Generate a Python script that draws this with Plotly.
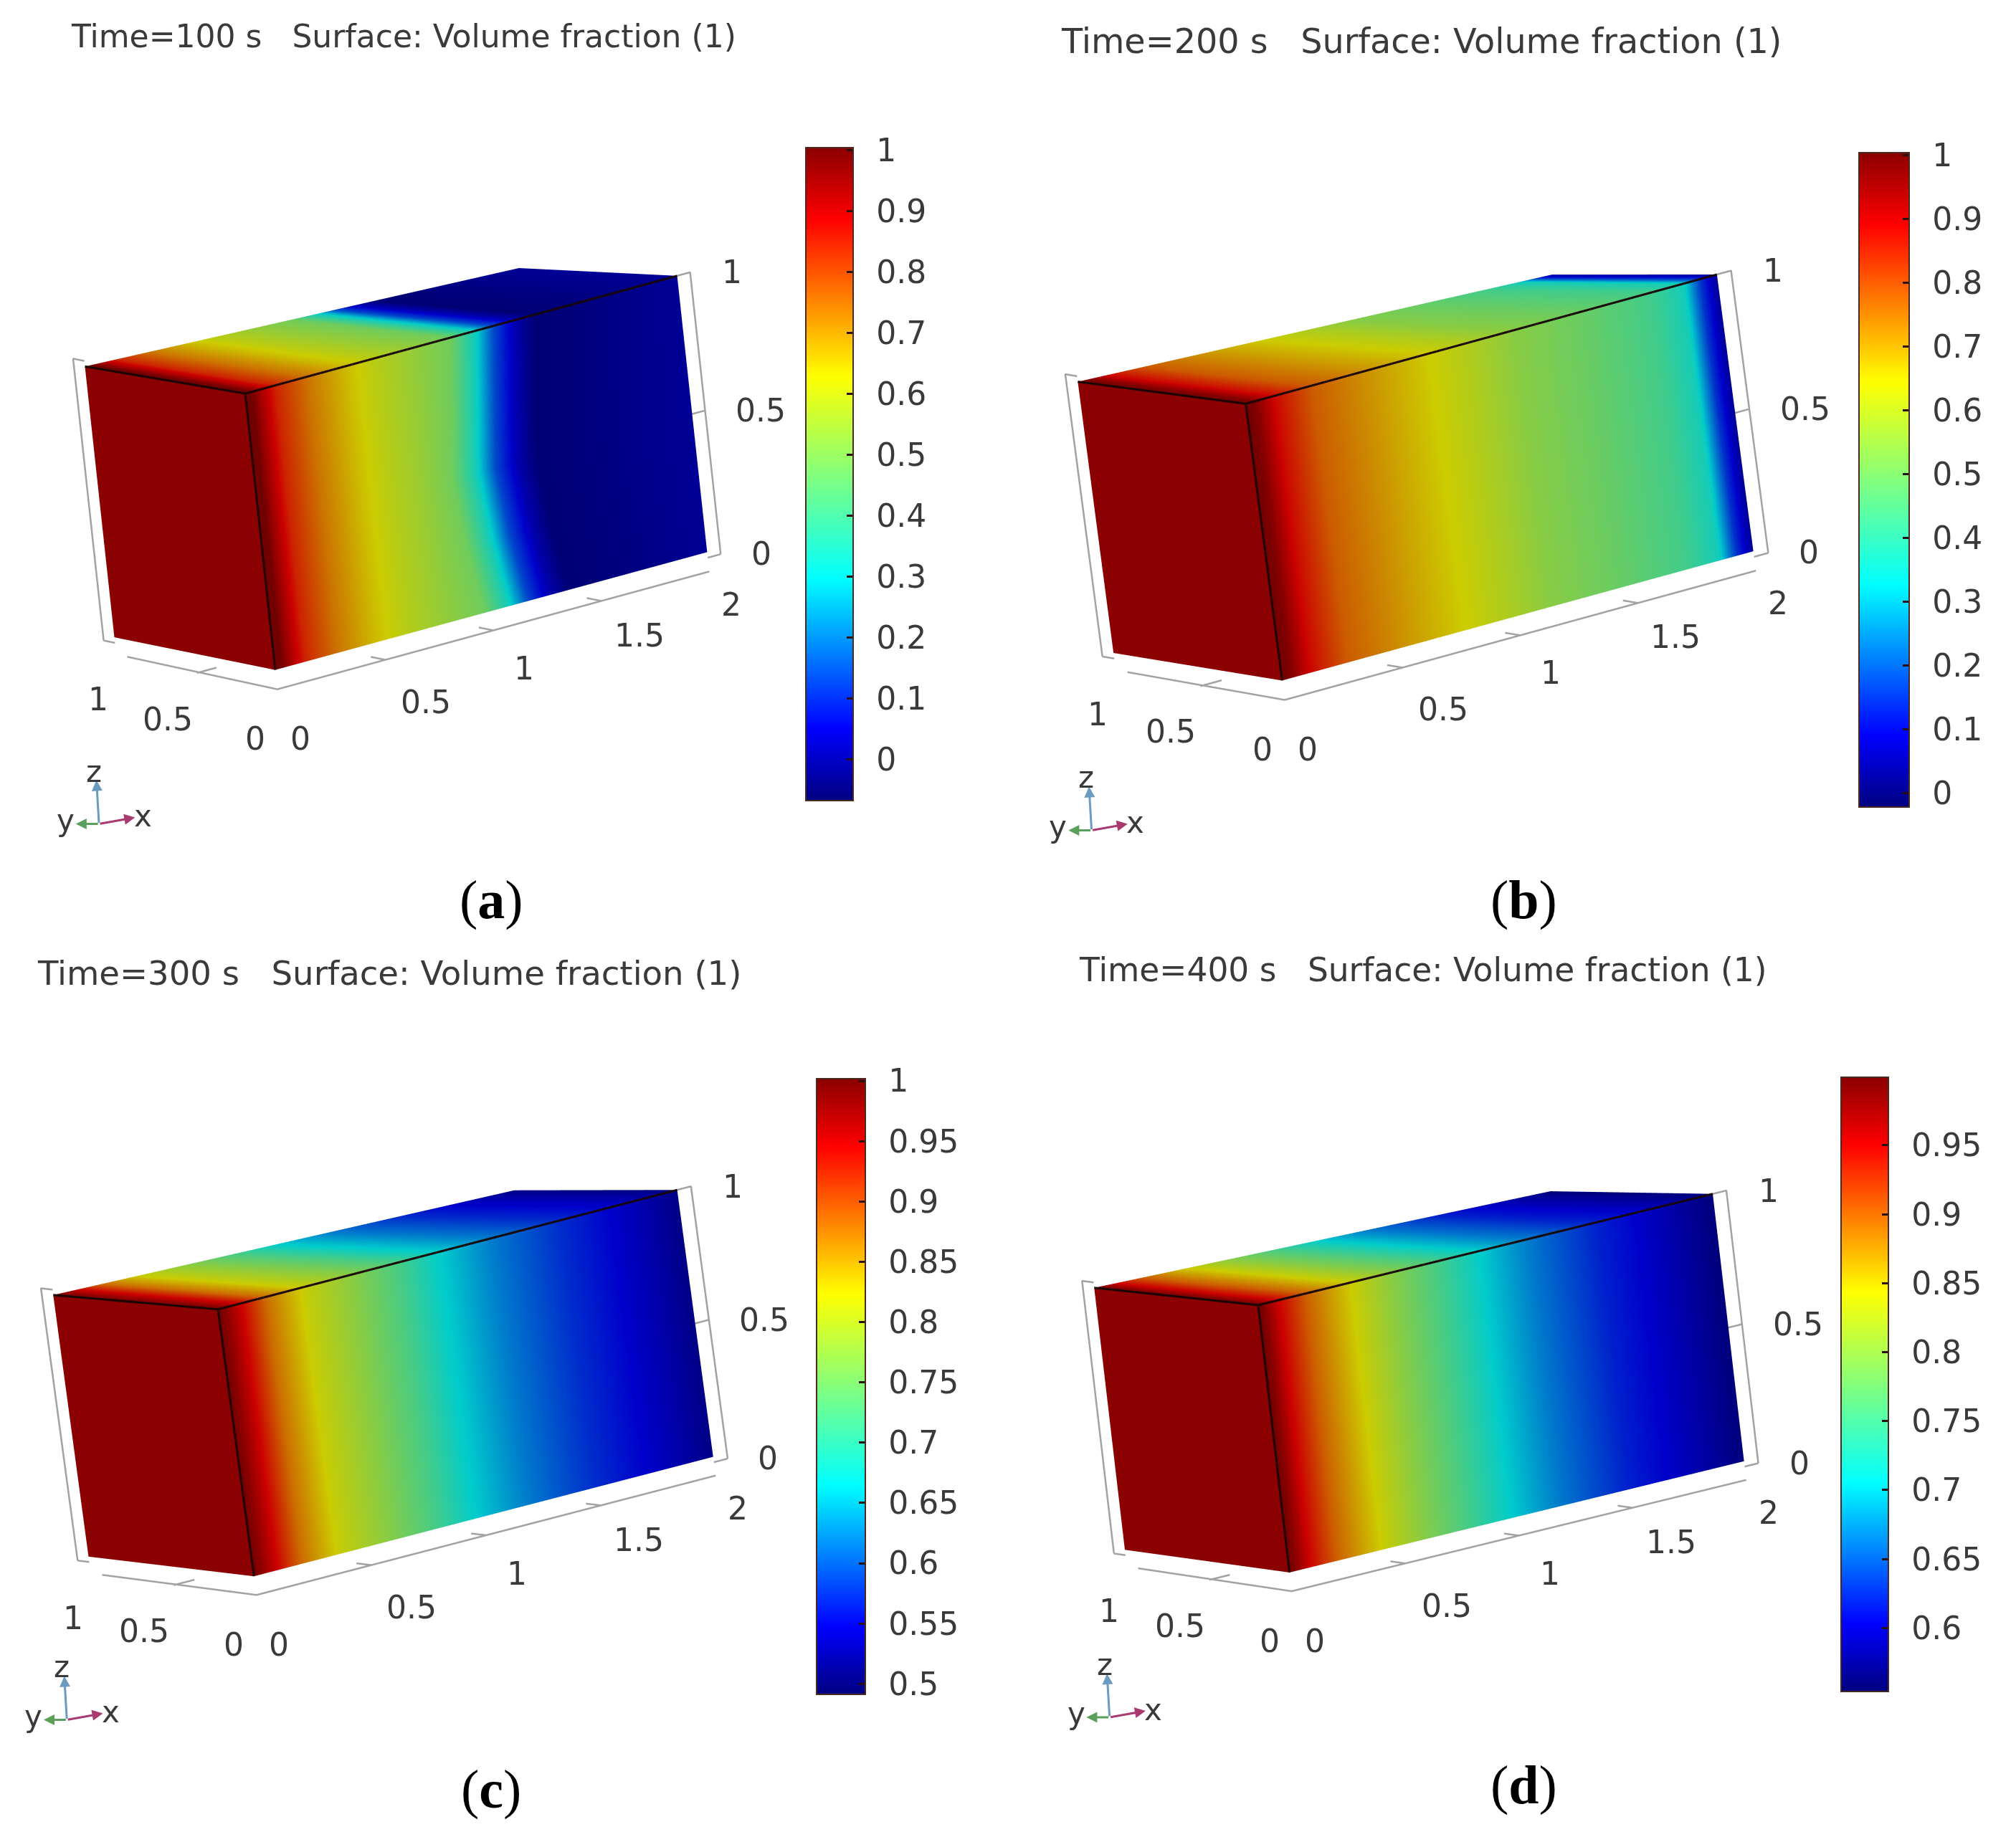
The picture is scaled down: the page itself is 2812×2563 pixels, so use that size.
import math
import numpy as np
import plotly.graph_objects as go

W, H = 2812, 2563
S = 2812 / 1568  # shrunk reference px to full px

# ---------- data ----------
titles = ["Time=100 s", "Time=200 s", "Time=300 s", "Time=400 s"]
surface_label = "Surface: Volume fraction (1)"
panel_letters = ["a", "b", "c", "d"]

x_a = [0, 0.03, 0.06, 0.14, 0.29, 0.47, 0.59, 0.74, 0.89, 1.0, 1.09, 1.19, 1.28, 1.48, 1.78, 2]
v_a = [1.0, 1.0, 0.95, 0.84, 0.74, 0.65, 0.60, 0.55, 0.48, 0.33, 0.14, 0.02, -0.05, -0.04, -0.02, -0.01]
x_b = [0, 0.04, 0.125, 0.28, 0.57, 0.95, 1.14, 1.43, 1.72, 1.855, 1.93, 2]
v_b = [1.0, 0.98, 0.88, 0.78, 0.70, 0.60, 0.54, 0.49, 0.43, 0.36, 0.15, 0.03]
x_c = [0, 0.04, 0.11, 0.21, 0.37, 0.59, 0.79, 0.95, 1.19, 1.48, 1.78, 2]
v_c = [1.0, 0.98, 0.94, 0.88, 0.82, 0.77, 0.72, 0.67, 0.62, 0.575, 0.54, 0.51]
x_d = [0, 0.04, 0.09, 0.21, 0.40, 0.58, 0.78, 0.985, 1.19, 1.49, 1.70, 2]
v_d = [0.9994, 0.98, 0.95, 0.90, 0.845, 0.80, 0.755, 0.705, 0.665, 0.62, 0.60, 0.565]
x_stations = [x_a, x_b, x_c, x_d]
values = [v_a, v_b, v_c, v_d]

z_levels = [0, 0.25, 0.5, 0.75, 1]
front_shift_a = [0.08, 0.03, 0.0, 0.03, 0.06]
front_shift_none = [0, 0, 0, 0, 0]
front_shifts = [front_shift_a, front_shift_none, front_shift_none, front_shift_none]

end_values = [1.004, 1.004, 1.002, 0.9994]
c_min = [-0.0675, -0.022, 0.4915, 0.554]
c_max = [1.004, 1.004, 1.002, 0.9994]

ticks_a = [0, 0.1, 0.2, 0.3, 0.4, 0.5, 0.6, 0.7, 0.8, 0.9, 1]
ticks_c = [0.5, 0.55, 0.6, 0.65, 0.7, 0.75, 0.8, 0.85, 0.9, 0.95, 1]
ticks_d = [0.6, 0.65, 0.7, 0.75, 0.8, 0.85, 0.9, 0.95]
cbar_ticks = [ticks_a, ticks_a, ticks_c, ticks_d]

x_ticks = [0, 0.5, 1, 1.5, 2]
y_ticks = [0, 0.5, 1]
z_ticks = [0, 0.5, 1]

# ---------- layout geometry (reference px, shrunk) ----------
corners = [
    dict(B=(215, 527), T=(190, 303), RT=(528, 215), RB=(548, 424), LT=(65, 285), LB=(90, 497)),
    dict(B=(997, 533), T=(968, 305), RT=(1338, 222), RB=(1362, 430), LT=(835, 290), LB=(867, 500)),
    dict(B=(198, 1228), T=(168, 1013), RT=(530, 935), RB=(552, 1133), LT=(38, 998), LB=(70, 1208)),
    dict(B=(1005, 1227), T=(977, 1012), RT=(1337, 933), RB=(1352, 1132), LT=(848, 997), LB=(878, 1207)),
]
cbars = [(627, 664, 115, 623), (1446, 1485, 119, 628), (635, 673, 839, 1318), (1432, 1469, 838, 1316)]
title_pos = [(54, 28), (824, 32), (28, 757), (838, 755)]
title_size = [44, 47.7, 46.6, 45.5]
letter_pos = [(382, 700), (1185, 700), (382, 1392), (1185, 1389)]
triad_delta = [(0, 0), (772, 5), (-25, 697), (786, 695)]
back_far_z = [0.91, 0.90, 0.925, 0.925]  # foreshortened far corner of the top face

SCENE_PX = 1000
EYE_R = 6
XR, YR, ZR = [-0.2, 2.2], [-0.2, 1.2], [-0.2, 1.2]

jet = [[0, "#000080"], [0.11, "#0000ff"], [0.34, "#00ffff"], [0.65, "#ffff00"],
       [0.89, "#ff0000"], [1, "#8b0000"]]
INK = "#3a3a3a"
FRAME = "#a2a2a2"
lighting = dict(ambient=0.8, diffuse=0, specular=0, roughness=1, fresnel=0)


def px(xp):
    return xp / W


def py(yp):
    return 1 - yp / H


def camera_for(c):
    p = {k: np.array([v[0] * S, -v[1] * S]) for k, v in c.items()}
    xv = ((p["RT"] - p["T"]) + (p["RB"] - p["B"])) / 4
    yv = ((p["LT"] - p["T"]) + (p["LB"] - p["B"])) / 2
    zv = ((p["T"] - p["B"]) + (p["RT"] - p["RB"]) + (p["LT"] - p["LB"])) / 3
    th = math.atan2(-zv[0], zv[1])
    rot = lambda u: np.array([u[0] * math.cos(th) + u[1] * math.sin(th),
                              -u[0] * math.sin(th) + u[1] * math.cos(th)])
    x2, y2, z2 = rot(xv), rot(yv), rot(zv)
    a = math.atan2(-y2[0], x2[0])
    s = math.hypot(x2[0], y2[0])
    se = (x2[1] * math.sin(a) + y2[1] * math.cos(a)) / s
    ce = math.sqrt(1 - se * se)
    ratio = z2[1] / (s * ce)
    r0 = np.array([math.cos(a), -math.sin(a), 0])
    f = np.array([math.sin(a), math.cos(a), 0])
    u0 = f * se + np.array([0, 0, ce])
    e = -f * ce + np.array([0, 0, se])
    up = math.sin(th) * r0 + math.cos(th) * u0
    K = 2 * s / SCENE_PX
    center = (p["RT"] + p["RB"] + p["LT"] + p["LB"]) / 4
    return dict(eye=e * EYE_R, up=up, ratio=ratio, K=K, cx=center[0], cy=-center[1])


def seg(points):
    xs, ys, zs = [], [], []
    for run in points:
        for q in run:
            xs.append(q[0]); ys.append(q[1]); zs.append(q[2])
        xs.append(None); ys.append(None); zs.append(None)
    return xs, ys, zs


fig = go.Figure()
layout = dict(width=W, height=H, margin=dict(l=0, r=0, t=0, b=0, pad=0),
              paper_bgcolor="white", plot_bgcolor="white", showlegend=False,
              font=dict(family="DejaVu Sans", color=INK))
annotations = []
shapes = []

for i in range(4):
    sid = "scene" if i == 0 else f"scene{i+1}"
    cax = "coloraxis" if i == 0 else f"coloraxis{i+1}"
    cam = camera_for(corners[i])
    xs_, vals = x_stations[i], values[i]
    shift = front_shifts[i]

    X = np.array([[q + shift[r] if 0.8 < q < 2 else q for q in xs_] for r in range(len(z_levels))])
    Z = np.array([[z_levels[r]] * len(xs_) for r in range(len(z_levels))])
    C = np.array([vals for _ in z_levels])
    common = dict(scene=sid, coloraxis=cax, lighting=lighting, hoverinfo="skip", showscale=False)
    # front face y=0
    fig.add_trace(go.Surface(x=X, y=np.zeros_like(X), z=Z, surfacecolor=C, **common))
    # top face z=1 (far side dips slightly, as the reference's perspective narrows it)
    Xt = np.array([X[-1], X[-1]])
    Yt = np.array([[0.0] * len(xs_), [1.0] * len(xs_)])
    z0b, z1b = 0.98, back_far_z[i]
    Zt = np.array([[1.0] * len(xs_), [z0b + (z1b - z0b) * q / 2 for q in X[-1]]])
    fig.add_trace(go.Surface(x=Xt, y=Yt, z=Zt, surfacecolor=np.array([vals, vals]), **common))
    # end face x=0
    fig.add_trace(go.Surface(x=np.zeros((2, 2)), y=np.array([[0.0, 1.0], [0.0, 1.0]]),
                             z=np.array([[0.0, 0.0], [1.0, z0b]]),
                             surfacecolor=np.full((2, 2), end_values[i]),
                             scene=sid, coloraxis=cax, hoverinfo="skip", showscale=False,
                             lighting=dict(ambient=1, diffuse=0, specular=0, roughness=1, fresnel=0)))
    # black edges
    ex, ey, ez = seg([[(2, 0, 1), (0, 0, 1), (0, 1, z0b)], [(0, 0, 1), (0, 0, 0)]])
    fig.add_trace(go.Scatter3d(x=ex, y=ey, z=ez, mode="lines", scene=sid, hoverinfo="skip",
                               line=dict(color="#180606", width=6)))
    # grey frame and ticks
    zb = -0.07
    frame = [[(0.02, 0.96, zb), (0, 0, zb), (2, 0, zb)],
             [(0, 1.07, -0.02), (0, 1.07, 1.0), (0, 1.0, 1.0)],
             [(2.06, 0, -0.02), (2.06, 0, 1.0), (2.0, 0, 1.0)],
             [(2.06, 0, -0.02), (2.0, 0, -0.02)],
             [(0, 1.07, -0.02), (0, 1.0, -0.02)]]
    frame += [[(t, 0, zb), (t, 0.09, zb)] for t in x_ticks[1:-1]]
    frame += [[(0, t, zb), (0.09, t, zb)] for t in y_ticks[1:-1]]
    frame += [[(2.06, 0, t), (2.0, 0.0, t)] for t in z_ticks[1:-1]]
    fx, fy, fz = seg(frame)
    fig.add_trace(go.Scatter3d(x=fx, y=fy, z=fz, mode="lines", scene=sid, hoverinfo="skip",
                               line=dict(color=FRAME, width=5)))

    # tick labels as scene annotations
    notes = []
    fnt = dict(family="DejaVu Sans", size=44, color=INK)
    xsh = [(32, -69), (57, -59), (43, -53), (53, -48), (31, -46)]
    ysh = [(-31, -69), (-41, -64), (-25, -59)]
    zsh = [(58, -7), (78, 0), (59, 0)]
    for t, (d, e) in zip(x_ticks, xsh):
        notes.append(dict(x=t, y=0, z=zb, text=f"{t:g}", showarrow=False, xshift=d, yshift=e,
                          xanchor="center", yanchor="middle", font=fnt))
    for t, (d, e) in zip(y_ticks, ysh):
        notes.append(dict(x=0, y=t, z=zb, text=f"{t:g}", showarrow=False, xshift=d, yshift=e,
                          xanchor="center", yanchor="middle", font=fnt))
    for t, (d, e) in zip(z_ticks, zsh):
        notes.append(dict(x=2.06, y=0, z=t, text=f"{t:g}", showarrow=False, xshift=d, yshift=e,
                          xanchor="center", yanchor="middle", font=fnt))

    rx, ry, rz = XR[1] - XR[0], YR[1] - YR[0], ZR[1] - ZR[0]
    K = cam["K"]
    hidden = dict(visible=False, showgrid=False, zeroline=False, showticklabels=False, showbackground=False)
    layout[sid] = dict(
        domain=dict(x=[px(cam["cx"] - SCENE_PX / 2), px(cam["cx"] + SCENE_PX / 2)],
                    y=[py(cam["cy"] + SCENE_PX / 2), py(cam["cy"] - SCENE_PX / 2)]),
        xaxis=dict(range=XR, **hidden), yaxis=dict(range=YR, **hidden), zaxis=dict(range=ZR, **hidden),
        aspectmode="manual",
        aspectratio=dict(x=rx * K, y=ry * K, z=rz * K * cam["ratio"]),
        camera=dict(eye=dict(x=cam["eye"][0], y=cam["eye"][1], z=cam["eye"][2]),
                    up=dict(x=cam["up"][0], y=cam["up"][1], z=cam["up"][2]),
                    center=dict(x=0, y=0, z=0),
                    projection=dict(type="orthographic")),
        annotations=notes, bgcolor="rgba(0,0,0,0)",
    )

    # colour bar
    l, r, t, b = [v * S for v in cbars[i]]
    layout[cax] = dict(
        cmin=c_min[i], cmax=c_max[i], colorscale=jet,
        colorbar=dict(x=px(l), xanchor="left", xpad=0, y=py(t), yanchor="top", ypad=0,
                      lenmode="pixels", len=b - t, thicknessmode="pixels", thickness=r - l,
                      tickmode="array", tickvals=cbar_ticks[i],
                      ticktext=["\u2002" + f"{v:g}" for v in cbar_ticks[i]],
                      ticks="inside", ticklen=10, tickwidth=3, tickcolor="#2a1010",
                      tickfont=dict(family="DejaVu Sans", size=44, color=INK),
                      outlinecolor="#4a2a20", outlinewidth=2),
    )
    # left-hand tick marks of the colour bar
    for v in cbar_ticks[i]:
        yv = t + (c_max[i] - v) / (c_max[i] - c_min[i]) * (b - t)
        shapes.append(dict(type="line", xref="paper", yref="paper", layer="above",
                           x0=px(l), x1=px(l + 10), y0=py(yv), y1=py(yv),
                           line=dict(color="#2a1010", width=3)))

    # title
    annotations.append(dict(xref="paper", yref="paper", x=px(title_pos[i][0] * S), y=py(title_pos[i][1] * S),
                            xanchor="left", yanchor="middle", showarrow=False,
                            text=titles[i] + "\u00a0\u00a0\u00a0" + surface_label,
                            font=dict(family="DejaVu Sans", size=title_size[i], color=INK)))
    # panel letter
    annotations.append(dict(xref="paper", yref="paper", x=px(letter_pos[i][0] * S), y=py(letter_pos[i][1] * S),
                            xanchor="center", yanchor="middle", showarrow=False,
                            text=f"(<b>{panel_letters[i]}</b>)",
                            font=dict(family="Liberation Serif", size=76, color="black")))
    # orientation triad
    dx, dy = triad_delta[i]
    ox, oy = (77 + dx) * S, (641 + dy) * S
    tips = [((-2, -34), "#6b9cc0", "z", (-4, -41)), ((28, -5), "#a83a70", "x", (34, -6)),
            ((-18, 0), "#5aa05a", "y", (-26, -3))]
    for (ax_, ay_), col, lab, (lx, ly) in tips:
        annotations.append(dict(xref="paper", yref="paper", x=px(ox + ax_ * S), y=py(oy + ay_ * S),
                                axref="pixel", ayref="pixel", ax=-ax_ * S, ay=-ay_ * S, text="",
                                showarrow=True, arrowhead=2, arrowsize=1, arrowwidth=3, arrowcolor=col))
        annotations.append(dict(xref="paper", yref="paper", x=px(ox + lx * S), y=py(oy + ly * S),
                                xanchor="center", yanchor="middle", showarrow=False, text=lab,
                                font=dict(family="DejaVu Sans", size=42, color=INK)))

layout["annotations"] = annotations
layout["shapes"] = shapes
fig.update_layout(**layout)
fig.write_html("out.html", post_script="document.body.style.margin='0';",
               config={"displayModeBar": False})
